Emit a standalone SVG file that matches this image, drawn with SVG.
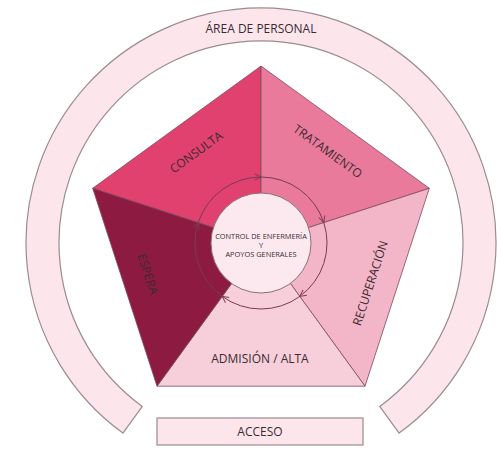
<svg xmlns="http://www.w3.org/2000/svg" width="497" height="456" viewBox="0 0 497 456">
  <style>
    text { font-family: "Open Sans", "Noto Sans", sans-serif; fill: #3b2a31; }
    .lbl { font-size: 12px; text-anchor: middle; dominant-baseline: central; }
    .wedge { stroke: #7d4a5c; stroke-width: 0.8; stroke-linejoin: miter; }
    .ring { fill: #fce6ec; stroke: #9b8b91; stroke-width: 1.2; }
    .cyc { fill: none; stroke: #7a3a55; stroke-width: 1; }
  </style>
  <defs>
    <marker id="chev" viewBox="0 0 10 10" refX="9" refY="5" markerWidth="8" markerHeight="8" markerUnits="userSpaceOnUse" orient="auto">
      <path d="M1,1 L9,5 L1,9" fill="none" stroke="#7a3a55" stroke-width="1.2"/>
    </marker>
  </defs>

  <!-- outer staff ring -->
  <g id="area-personal">
    <path class="ring" d="M122.9,433.1 A235,235 0 1 1 399.1,433.1 L379.7,406.4 A202,202 0 1 0 142.3,406.4 Z"/>
    <text x="261" y="33" font-size="12" text-anchor="middle">ÁREA DE PERSONAL</text>
  </g>

  <!-- pentagon sectors -->
  <g id="consulta">
    <polygon class="wedge" fill="#e0416f" points="261,243 92.7,188.3 261,66"/>
    <text class="lbl" transform="translate(196,152) rotate(-36)">CONSULTA</text>
  </g>
  <g id="tratamiento">
    <polygon class="wedge" fill="#ea7a9c" points="261,243 261,66 429.3,188.3"/>
    <text class="lbl" transform="translate(328,151) rotate(36)">TRATAMIENTO</text>
  </g>
  <g id="recuperacion">
    <polygon class="wedge" fill="#f3b5c8" points="261,243 429.3,188.3 365,386.2"/>
    <text class="lbl" transform="translate(370,283) rotate(-72)">RECUPERACIÓN</text>
  </g>
  <g id="admision-alta">
    <polygon class="wedge" fill="#f7cfdb" points="261,243 365,386.2 157,386.2"/>
    <text class="lbl" x="260" y="358">ADMISIÓN / ALTA</text>
  </g>
  <g id="espera">
    <polygon class="wedge" fill="#8d1b41" points="261,243 157,386.2 92.7,188.3"/>
    <text class="lbl" transform="translate(148,274) rotate(72)">ESPERA</text>
  </g>

  <!-- clockwise flow between sectors -->
  <g id="connectors">
    <path class="cyc" marker-end="url(#chev)" d="M198.2,222.6 A66,66 0 0 1 261,177"/>
    <path class="cyc" marker-end="url(#chev)" d="M261,177 A66,66 0 0 1 323.8,222.6"/>
    <path class="cyc" marker-end="url(#chev)" d="M323.8,222.6 A66,66 0 0 1 299.8,296.4"/>
    <path class="cyc" marker-end="url(#chev)" d="M299.8,296.4 A66,66 0 0 1 222.2,296.4"/>
    <path class="cyc" marker-end="url(#chev)" d="M222.2,296.4 A66,66 0 0 1 198.2,222.6"/>
  </g>

  <!-- nursing control hub -->
  <g id="control-enfermeria">
    <circle cx="261" cy="243" r="50" fill="#fbe9ef" stroke="#8c6f78" stroke-width="1"/>
    <text x="261" y="239" font-size="7.4" text-anchor="middle">CONTROL DE ENFERMERÍA</text>
    <text x="261" y="248" font-size="7.4" text-anchor="middle">Y</text>
    <text x="261" y="257" font-size="7.4" text-anchor="middle">APOYOS GENERALES</text>
  </g>

  <!-- entrance -->
  <g id="acceso">
    <rect x="157" y="418" width="206" height="27" fill="#fce6ec" stroke="#9b8b91" stroke-width="1.2"/>
    <text x="260" y="436" font-size="12" text-anchor="middle">ACCESO</text>
  </g>
</svg>
